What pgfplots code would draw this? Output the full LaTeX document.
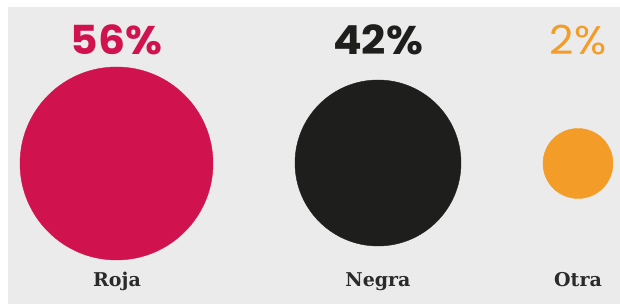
\documentclass[border=0pt]{standalone}
\usepackage{pgfplots}
\pgfplotsset{compat=1.18}
\usepackage{fontspec}
\setmainfont{Poppins}
\newfontfamily\pct[FakeStretch=1.06]{Poppins}
\newfontfamily\slab{DejaVu Serif}
\definecolor{bg}{HTML}{EBEBEB}
\definecolor{roja}{HTML}{D0134F}
\definecolor{negra}{HTML}{1E1E1C}
\definecolor{otra}{HTML}{F39C27}
\definecolor{lab}{HTML}{2A2A2A}
\begin{document}
\begin{tikzpicture}
\begin{axis}[
  width=620pt, height=304pt, scale only axis,
  xmin=0, xmax=620, ymin=0, ymax=304,
  hide axis, clip=false,
]
\fill[bg] (axis cs:8,-3) rectangle (axis cs:623,297);
\addplot[roja, only marks, mark=*, mark size=96.5pt] coordinates {(116.5,140.5)};
\addplot[negra, only marks, mark=*, mark size=83pt] coordinates {(378,141)};
\addplot[otra, only marks, mark=*, mark size=35pt] coordinates {(578,140.5)};
\node[anchor=base, text=roja, font=\fontsize{40}{44}\pct\bfseries] at (axis cs:116.5,249) {56\%};
\node[anchor=base, text=negra, font=\fontsize{40}{44}\pct\bfseries] at (axis cs:378,249) {42\%};
\node[anchor=base, text=otra, font=\fontsize{40}{44}\pct] at (axis cs:578,249) {2\%};
\node[anchor=base, text=lab, font=\fontsize{19}{22}\slab\bfseries] at (axis cs:117,17) {Roja};
\node[anchor=base, text=lab, font=\fontsize{19}{22}\slab\bfseries] at (axis cs:378,17) {Negra};
\node[anchor=base, text=lab, font=\fontsize{19}{22}\slab\bfseries] at (axis cs:578,17) {Otra};
\end{axis}
\pgfresetboundingbox
\path[use as bounding box] (current axis.south west) rectangle (current axis.north east);
\end{tikzpicture}
\end{document}
